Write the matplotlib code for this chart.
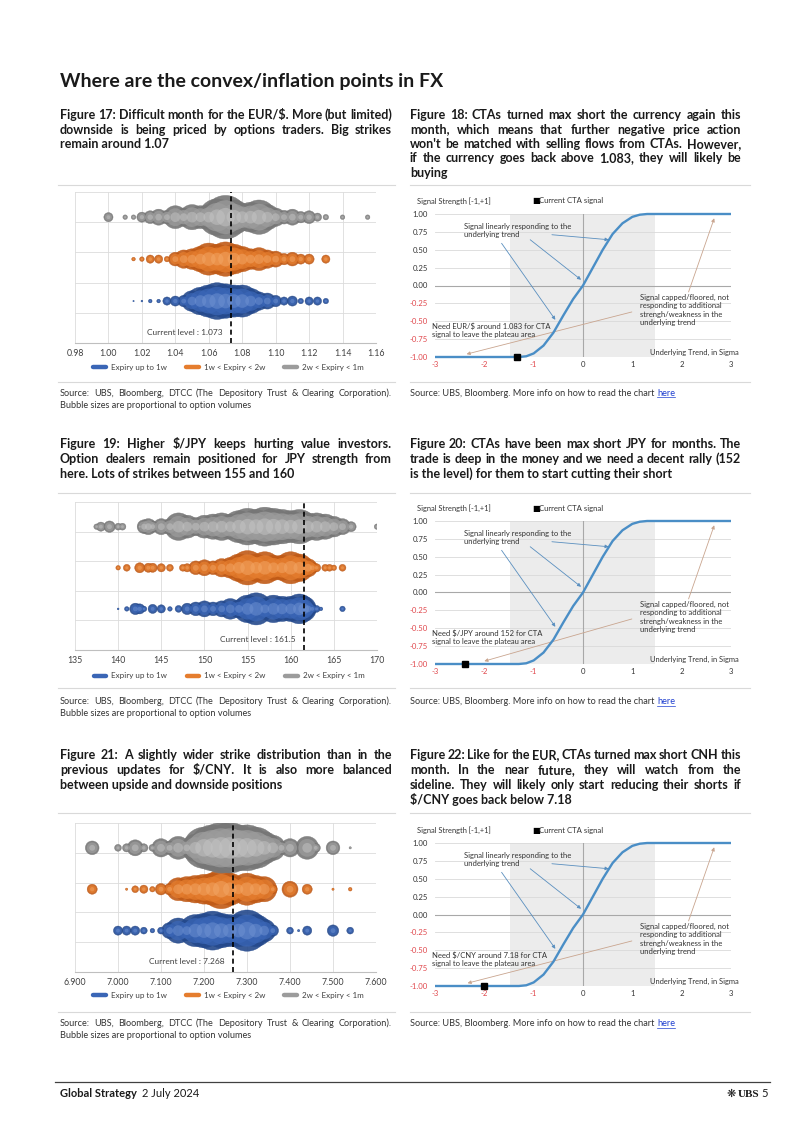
import numpy as np
import matplotlib
matplotlib.use("Agg")
import matplotlib.pyplot as plt
from matplotlib.lines import Line2D

plt.rcParams['font.family'] = ['Lato']

# ---- bubble charts: strikes and bubble sizes (relative)
eur_ticks = [0.98, 1.00, 1.02, 1.04, 1.06, 1.08, 1.10, 1.12, 1.14, 1.16]
eur_gray_k = [1.000, 1.010, 1.015, 1.020, 1.025, 1.030, 1.035, 1.040, 1.045, 1.050, 1.055, 1.060, 1.065, 1.070,
              1.075, 1.080, 1.085, 1.090, 1.095, 1.100, 1.105, 1.110, 1.115, 1.120, 1.125, 1.130, 1.140, 1.155]
eur_gray_v = [20, 10, 10, 22, 28, 35, 30, 50, 40, 55, 50, 55, 80, 95, 75, 60, 65, 75, 55, 40, 30, 35, 25, 28, 18, 12, 10, 10]
eur_orange_k = [1.015, 1.020, 1.025, 1.030, 1.035, 1.040, 1.045, 1.050, 1.055, 1.060, 1.065, 1.070, 1.075, 1.080,
                1.085, 1.090, 1.095, 1.100, 1.105, 1.110, 1.115, 1.120, 1.130]
eur_orange_v = [8, 10, 18, 18, 12, 30, 40, 45, 55, 70, 65, 75, 65, 55, 45, 50, 40, 35, 25, 30, 22, 22, 18]
eur_blue_k = [1.015, 1.020, 1.025, 1.030, 1.035, 1.040, 1.045, 1.050, 1.055, 1.060, 1.065, 1.070, 1.075, 1.080,
              1.085, 1.090, 1.095, 1.100, 1.105, 1.110, 1.115, 1.120, 1.125, 1.130]
eur_blue_v = [3, 4, 8, 8, 18, 22, 25, 45, 60, 70, 80, 75, 70, 70, 55, 40, 35, 25, 18, 22, 12, 18, 18, 12]
eur_level = 1.073

jpy_ticks = [135, 140, 145, 150, 155, 160, 165, 170]
jpy_gray_k = [137.5, 138, 139, 140, 140.5, 142.5, 143, 143.5, 144, 145, 146, 147, 148, 149, 150, 151, 152, 153,
              154, 155, 156, 157, 158, 159, 160, 161, 162, 163, 164, 165, 166, 167, 170]
jpy_gray_v = [12, 20, 25, 15, 15, 8, 30, 35, 25, 35, 35, 60, 50, 40, 50, 55, 60, 55, 70, 80, 75, 85, 80, 75, 70,
              75, 60, 60, 55, 45, 35, 22, 12]
jpy_orange_k = [140, 141, 142.5, 143.5, 144, 145, 146, 147.5, 148, 149, 150, 151, 152, 153, 154, 155, 156, 157,
                158, 159, 160, 161, 162, 162.5, 163, 164, 164.5, 165, 166]
jpy_orange_v = [10, 15, 22, 20, 20, 18, 15, 15, 18, 30, 35, 30, 40, 45, 60, 75, 60, 70, 55, 55, 70, 60, 40, 25,
                18, 15, 15, 12, 15]
jpy_blue_k = [140, 141, 142, 142.5, 143, 144, 145, 146, 147, 148, 149, 150, 151, 152, 153, 154, 155, 156, 157,
              158, 159, 160, 161, 161.5, 162, 162.5, 163, 163.5, 166]
jpy_blue_v = [4, 10, 25, 22, 12, 20, 18, 10, 15, 25, 30, 35, 30, 35, 45, 40, 60, 70, 45, 60, 55, 55, 65, 55, 35,
              20, 15, 8, 12]
jpy_level = 161.5

cny_ticks = [6.9, 7.0, 7.1, 7.2, 7.3, 7.4, 7.5, 7.6]
cny_gray_k = [6.94, 7.00, 7.02, 7.04, 7.06, 7.08, 7.10, 7.12, 7.14, 7.16, 7.18, 7.20, 7.22, 7.24, 7.26, 7.28,
              7.30, 7.32, 7.34, 7.36, 7.38, 7.40, 7.44, 7.46, 7.50, 7.54]
cny_gray_v = [30, 15, 18, 35, 18, 15, 40, 30, 50, 35, 60, 90, 100, 110, 110, 100, 100, 90, 70, 55, 30, 40, 50,
              20, 30, 5]
cny_orange_k = [6.94, 7.02, 7.04, 7.06, 7.08, 7.10, 7.12, 7.14, 7.16, 7.18, 7.20, 7.22, 7.24, 7.26, 7.28, 7.30,
                7.32, 7.34, 7.36, 7.40, 7.44, 7.50, 7.54]
cny_orange_v = [22, 5, 15, 18, 12, 25, 25, 50, 55, 60, 65, 70, 85, 70, 50, 70, 60, 55, 20, 35, 22, 5, 8]
cny_blue_k = [7.00, 7.02, 7.04, 7.06, 7.08, 7.10, 7.12, 7.14, 7.16, 7.18, 7.20, 7.22, 7.24, 7.26, 7.28, 7.30,
              7.32, 7.34, 7.36, 7.40, 7.42, 7.44, 7.50, 7.54]
cny_blue_v = [20, 20, 20, 15, 10, 15, 35, 55, 45, 70, 75, 85, 75, 70, 70, 90, 70, 50, 25, 15, 5, 20, 25, 15]
cny_level = 7.268

legend_labels = ['Expiry up to 1w', '1w < Expiry < 2w', '2w < Expiry < 1m']

# ---- CTA signal curve
cta_x = [-3.0, -1.3, -1.15, -1.0, -0.8, -0.6, -0.4, -0.2, 0.0, 0.2, 0.4, 0.6, 0.8, 1.0, 1.15, 1.3, 3.0]
cta_y = [-1.0, -1.0, -0.99, -0.95, -0.84, -0.66, -0.42, -0.19, 0.0, 0.25, 0.50, 0.72, 0.87, 0.96, 0.99, 1.0, 1.0]
cta_yticks = [1.0, 0.75, 0.5, 0.25, 0.0, -0.25, -0.5, -0.75, -1.0]
cta_xticks = [-3, -2, -1, 0, 1, 2, 3]
eur_signal = -1.34
jpy_signal = -2.39
cny_signal = -2.0

W, H = 802, 1134
fig = plt.figure(figsize=(W / 100, H / 100), dpi=100)
renderer = fig.canvas.get_renderer()
DARK = '#1a1a1a'


def fx(x):
    return x / W


def fy(y):
    return 1 - y / H


def box(x0, y0, x1, y1):
    return [fx(x0), fy(y1), (x1 - x0) / W, (y1 - y0) / H]


def put(x, y, s, **kw):
    return fig.text(fx(x), fy(y), s, **kw)


def justify(x0, x1, y, s, **kw):
    words = s.split(' ')
    ts = [put(0, y, w, **kw) for w in words]
    ws = [t.get_window_extent(renderer).width for t in ts]
    gap = max((x1 - x0 - sum(ws)) / max(len(words) - 1, 1), 1.5)
    x = x0
    for t, w in zip(ts, ws):
        t.set_x(fx(x))
        x += w + gap


def paragraph(x0, x1, y, lines, dy, **kw):
    for i, ln in enumerate(lines):
        if i < len(lines) - 1:
            justify(x0, x1, y + i * dy, ln, **kw)
        else:
            put(x0, y + i * dy, ln, **kw)


def hline(x0, x1, y, color='#d9d9d9', lw=0.8):
    fig.add_artist(Line2D([fx(x0), fx(x1)], [fy(y), fy(y)], color=color, lw=lw))


cap = dict(fontsize=9.0, fontweight='bold', color=DARK, va='baseline')
src = dict(fontsize=6.6, color='#333333', va='baseline')

# title
put(60, 87, 'Where are the convex/inflation points in FX', fontsize=14, fontweight='bold', color=DARK)

# captions
paragraph(60, 392, 119, ['Figure 17: Difficult month for the EUR/$. More (but limited)',
                         'downside is being priced by options traders. Big strikes',
                         'remain around 1.07'], 14.5, **cap)
paragraph(410, 741, 119, ['Figure 18: CTAs turned max short the currency again this',
                          'month, which means that further negative price action',
                          "won't be matched with selling flows from CTAs. However,",
                          'if the currency goes back above 1.083, they will likely be',
                          'buying'], 14.5, **cap)
paragraph(60, 392, 448, ['Figure 19: Higher $/JPY keeps hurting value investors.',
                         'Option dealers remain positioned for JPY strength from',
                         'here. Lots of strikes between 155 and 160'], 15, **cap)
paragraph(410, 741, 448, ['Figure 20: CTAs have been max short JPY for months. The',
                          'trade is deep in the money and we need a decent rally (152',
                          'is the level) for them to start cutting their short'], 15, **cap)
paragraph(60, 392, 759, ['Figure 21: A slightly wider strike distribution than in the',
                         'previous updates for $/CNY. It is also more balanced',
                         'between upside and downside positions'], 15, **cap)
paragraph(410, 741, 759, ['Figure 22: Like for the EUR, CTAs turned max short CNH this',
                          'month. In the near future, they will watch from the',
                          'sideline. They will likely only start reducing their shorts if',
                          '$/CNY goes back below 7.18'], 15, **cap)

# separators and sources
for top, bot, sy in [(185, 382, 396), (493, 688, 704), (813, 1012, 1026)]:
    hline(58, 395, top)
    hline(410, 750, top)
    hline(58, 395, bot)
    hline(410, 750, bot)
    paragraph(60, 392, sy, ['Source: UBS, Bloomberg, DTCC (The Depository Trust & Clearing Corporation).',
                            'Bubble sizes are proportional to option volumes'], 12, **src)
    t = put(410, sy, 'Source: UBS, Bloomberg. More info on how to read the chart', **src)
    wpx = t.get_window_extent(renderer).width + 2.5
    h = put(410 + wpx, sy, 'here', fontsize=6.6, color='#1f3fd0', va='baseline')
    hw = h.get_window_extent(renderer).width
    hline(410 + wpx, 410 + wpx + hw, sy + 1.5, color='#1f3fd0', lw=0.5)

# ---- bubble charts
pal = {'blue': ('#24498c', '#3a66b6', '#6f92d2'),
       'orange': ('#c05a16', '#e57d2e', '#f3a766'),
       'gray': ('#767676', '#9c9c9c', '#c4c4c4')}


def draw_bubbles(ax, ks, vs, row, name):
    base, mid, light = pal[name]
    s = (np.array(vs) * 0.33) ** 2
    y = np.full(len(ks), row)
    ax.scatter(ks, y, s=s, color=base, edgecolor=base, linewidth=0.3, alpha=0.9, zorder=3)
    ax.scatter(ks, y, s=s * 0.6, color=mid, linewidth=0, alpha=0.75, zorder=4)
    ax.scatter(ks, y, s=s * 0.18, color=light, linewidth=0, alpha=0.5, zorder=5)


def bubble_chart(rect, ticks, fmt, rows, level, leg_y):
    ax = fig.add_axes(rect)
    ax.set_xlim(ticks[0], ticks[-1])
    ax.set_ylim(0, 3.6)
    ax.set_xticks(ticks)
    ax.set_xticklabels([fmt.format(t) for t in ticks])
    ax.set_yticks(np.linspace(0, 3.6, 6))
    ax.set_yticklabels([])
    ax.grid(True, color='#dcdcdc', lw=0.6, zorder=0)
    ax.set_axisbelow(True)
    for sp in ['top', 'left', 'right']:
        ax.spines[sp].set_visible(False)
    ax.spines['bottom'].set_color('#bfbfbf')
    ax.spines['bottom'].set_linewidth(0.8)
    ax.tick_params(length=0, labelsize=6.3, labelcolor='#404040', pad=4)
    for i, (ks, vs, name) in enumerate(rows):
        draw_bubbles(ax, ks, vs, i + 1, name)
    ax.axvline(level, color='black', ls=(0, (3, 2)), lw=1.2, zorder=6)
    ax.annotate('Current level : ' + str(level), (level, 0.25), xytext=(-6, 0), textcoords='offset points',
                ha='right', va='center', fontsize=6, color='#404040')
    handles = [Line2D([], [], color=pal[n][1], lw=3.2, solid_capstyle='round') for n in ['blue', 'orange', 'gray']]
    ax.legend(handles, legend_labels, loc='center', bbox_to_anchor=(0.51, leg_y), ncol=3, frameon=False,
              fontsize=5.8, handlelength=1.6, handletextpad=0.6, columnspacing=2.4, labelcolor='#404040')
    return ax


bubble_chart(box(75, 192, 376, 343), eur_ticks, '{:.2f}',
             [(eur_blue_k, eur_blue_v, 'blue'), (eur_orange_k, eur_orange_v, 'orange'),
              (eur_gray_k, eur_gray_v, 'gray')], eur_level, -0.16)
bubble_chart(box(75, 502, 377, 650), jpy_ticks, '{:d}',
             [(jpy_blue_k, jpy_blue_v, 'blue'), (jpy_orange_k, jpy_orange_v, 'orange'),
              (jpy_gray_k, jpy_gray_v, 'gray')], jpy_level, -0.175)
bubble_chart(box(75, 823, 376, 972), cny_ticks, '{:.3f}',
             [(cny_blue_k, cny_blue_v, 'blue'), (cny_orange_k, cny_orange_v, 'orange'),
              (cny_gray_k, cny_gray_v, 'gray')], cny_level, -0.155)

# ---- CTA charts
NEG = '#e0474c'
BLUE_AR = '#5a8fbf'
TAN_AR = '#c9a58f'
ann = dict(fontsize=5.5, color='#333333', linespacing=1.2)


def arrow(ax, p0, p1, color):
    ax.annotate('', xy=p1, xytext=p0,
                arrowprops=dict(arrowstyle='-|>', color=color, lw=0.6, mutation_scale=5, shrinkA=0, shrinkB=0))


def cta_chart(top, signal, need, tip_x):
    ax = fig.add_axes(box(435, top, 731, top + 143))
    ax.set_xlim(-3, 3)
    ax.set_ylim(-1, 1)
    ax.axvspan(-1.48, 1.45, color='#ececec', lw=0, zorder=0)
    for v in cta_yticks:
        ax.axhline(v, color='#d9d9d9', lw=0.6, zorder=1)
    ax.axhline(0, color='#a8a8a8', lw=0.8, zorder=1)
    ax.axvline(0, color='#a8a8a8', lw=0.8, zorder=1)
    ax.plot(cta_x, cta_y, color='#4a8ec6', lw=1.7, zorder=4, clip_on=False, solid_capstyle='butt')
    ax.plot([signal], [-1.0], 's', color='black', ms=4.2, zorder=5, clip_on=False)
    for sp in ax.spines.values():
        sp.set_visible(False)
    ax.set_yticks(cta_yticks)
    ax.set_yticklabels(['{:.2f}'.format(v) for v in cta_yticks])
    ax.set_xticks(cta_xticks)
    ax.set_xticklabels([str(v) for v in cta_xticks])
    ax.tick_params(length=0, labelsize=5.6, labelcolor='#333333')
    ax.tick_params(axis='x', pad=3)
    ax.tick_params(axis='y', pad=5)
    for lab, v in zip(ax.get_yticklabels(), cta_yticks):
        if v < 0:
            lab.set_color(NEG)
    for lab, v in zip(ax.get_xticklabels(), cta_xticks):
        if v < 0:
            lab.set_color(NEG)
    ax.text(-2.42, 0.87, 'Signal linearly responding to the\nunderlying trend', ha='left', va='top', **ann)
    arrow(ax, (-0.63, 0.71), (0.52, 0.64), BLUE_AR)
    arrow(ax, (-1.07, 0.64), (-0.04, 0.08), BLUE_AR)
    arrow(ax, (-1.65, 0.59), (-0.56, -0.48), BLUE_AR)
    ax.text(1.15, -0.12, 'Signal capped/floored, not\nresponding to additional\nstrengh/weakness in the\n'
            'underlying trend', ha='left', va='top', **ann)
    arrow(ax, (2.14, -0.09), (2.66, 0.94), TAN_AR)
    arrow(ax, (0.99, -0.37), (tip_x, -0.96), TAN_AR)
    ax.text(-3.07, -0.52, need, ha='left', va='top', **ann)
    ax.text(3.15, -0.93, 'Underlying Trend, in Sigma', ha='right', va='center', fontsize=5.4, color='#333333')
    put(417, top - 13, 'Signal Strength [-1,+1]', fontsize=5.4, color='#333333', va='center')
    put(532, top - 13, '\u25a0', fontsize=6, color='black', va='center', family=['DejaVu Sans'])
    put(539, top - 13, 'Current CTA signal', fontsize=5.6, color='#333333', va='center')


cta_chart(214, eur_signal, 'Need EUR/$ around 1.083 for CTA\nsignal to leave the plateau area', -2.36)
cta_chart(521, jpy_signal, 'Need $/JPY around 152 for CTA\nsignal to leave the plateau area', -2.0)
cta_chart(843, cny_signal, 'Need $/CNY around 7.18 for CTA\nsignal to leave the plateau area', -2.34)

# ---- footer
hline(55, 770, 1082, color='#404040', lw=0.9)
g = put(60, 1097, 'Global Strategy', fontsize=8, fontweight='bold', color=DARK, va='baseline')
gw = g.get_window_extent(renderer).width
put(60 + gw + 5, 1097, '2 July 2024', fontsize=8, color=DARK, va='baseline')
put(768, 1097, '5', fontsize=8, color=DARK, va='baseline', ha='right')
put(759, 1097, 'UBS', fontsize=8, fontweight='bold', color=DARK, va='baseline', ha='right',
    family=['Liberation Serif', 'DejaVu Serif'])
put(736, 1097, '\u274b', fontsize=8, color=DARK, va='baseline', ha='right', family=['DejaVu Sans'])

fig.savefig('out.png', dpi=100)
